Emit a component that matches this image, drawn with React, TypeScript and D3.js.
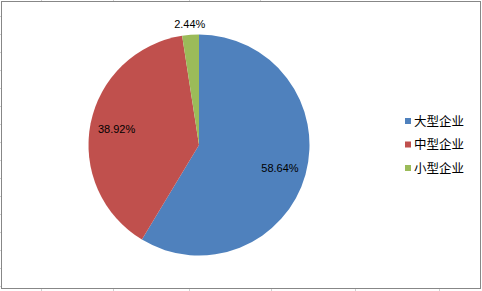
import React from "react";
import * as d3 from "d3";

const categories = ["大型企业", "中型企业", "小型企业"];
const values = [58.64, 38.92, 2.44];
const colors = ["#4F81BD", "#C0504D", "#9BBB59"];
const topTicks = [41, 113, 189, 260];
const bottomTicks = [41, 113, 189, 271, 355, 439];
const leftTicks = d3.range(16, 291, 18);

export default function App() {
  const W = 482, H = 291;
  const cx = 199, cy = 145, R = 110.5;
  const pie = d3.pie<number>().sort(null).value((d) => d)(values);
  const arc = d3.arc<d3.PieArcDatum<number>>().innerRadius(0).outerRadius(R);
  const fmt = (v: number) => v.toFixed(2) + "%";
  return (
    <svg width={W} height={H} style={{ position: "absolute", left: 0, top: 0 }}>
      <rect x={0} y={0} width={W} height={H} fill="#fff" />
      {topTicks.map((x, i) => (
        <line key={"t" + i} x1={x + 0.5} x2={x + 0.5} y1={0} y2={1} stroke="#d0d0d0" />
      ))}
      {bottomTicks.map((x, i) => (
        <line key={"b" + i} x1={x + 0.5} x2={x + 0.5} y1={289} y2={291} stroke="#d0d0d0" />
      ))}
      {leftTicks.map((y, i) => (
        <line key={"l" + i} x1={0} x2={1} y1={y + 0.5} y2={y + 0.5} stroke="#d0d0d0" />
      ))}
      <rect x={1.5} y={1.5} width={479} height={287} fill="#fff" stroke="#878787" strokeWidth={1} />
      <g transform={`translate(${cx},${cy})`}>
        {pie.map((d, i) => (
          <path key={i} d={arc(d) || ""} fill={colors[i]} />
        ))}
        {pie.map((d, i) => {
          const small = d.data < 5;
          const lr = small ? R + 10.5 : 84;
          const [x, y] = d3.arc<d3.PieArcDatum<number>>().innerRadius(lr).outerRadius(lr).centroid(d);
          return (
            <text
              key={"lab" + i}
              x={x}
              y={y + 4}
              textAnchor="middle"
              fontFamily="Liberation Sans, Arial, sans-serif"
              fontSize={11}
              fill="#000"
            >
              {fmt(d.data)}
            </text>
          );
        })}
      </g>
      {categories.map((c, i) => (
        <g key={"lg" + i} transform={`translate(405,${121 + i * 23.5})`}>
          <rect x={0} y={-3} width={6} height={6} fill={colors[i]} />
          <text
            x={9}
            y={4.5}
            fontFamily="Noto Sans CJK SC, sans-serif"
            fontSize={12.5}
            fill="#000"
          >
            {c}
          </text>
        </g>
      ))}
    </svg>
  );
}
